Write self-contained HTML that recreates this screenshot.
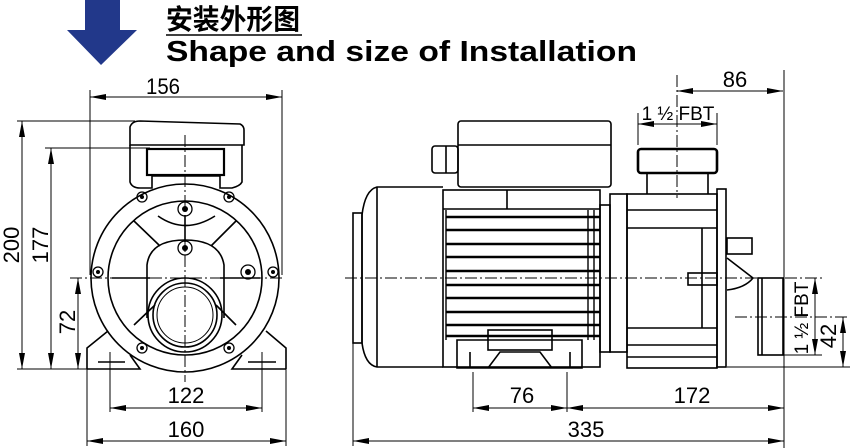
<!DOCTYPE html>
<html><head><meta charset="utf-8"><style>
html,body{margin:0;padding:0;background:#fff}
svg{display:block}
text{font-family:"Liberation Sans","Noto Sans CJK SC",sans-serif;fill:#000}
</style></head><body>
<svg width="850" height="448" viewBox="0 0 850 448" xmlns="http://www.w3.org/2000/svg">
<defs>
<marker id="a" viewBox="0 0 16 6" refX="16" refY="3" markerWidth="16" markerHeight="6" markerUnits="userSpaceOnUse" orient="auto-start-reverse"><path d="M0,0 L16,3 L0,6 Z" fill="#000"/></marker>
</defs>
<path d="M85,0 H120 V30 H137 L101,65 L67,30 H85 Z" fill="#22388a"/>
<text x="166" y="29" font-size="28" font-weight="bold" textLength="134" lengthAdjust="spacingAndGlyphs">安装外形图</text>
<line x1="166" y1="35" x2="302" y2="35" stroke="#000" stroke-width="1.5"/>
<text x="166" y="61" font-size="29" font-weight="bold" textLength="471" lengthAdjust="spacingAndGlyphs">Shape and size of Installation</text>

<g fill="none" stroke="#000" stroke-width="1">
<line x1="90" y1="90" x2="90" y2="275"/><line x1="282" y1="90" x2="282" y2="275"/>
<line x1="90" y1="97" x2="282" y2="97" marker-start="url(#a)" marker-end="url(#a)"/>
<line x1="17" y1="121" x2="135" y2="121"/><line x1="17" y1="369" x2="92" y2="369"/>
<line x1="45" y1="148" x2="150" y2="148"/>
<line x1="22" y1="121" x2="22" y2="369" marker-start="url(#a)" marker-end="url(#a)"/>
<line x1="51" y1="148" x2="51" y2="369" marker-start="url(#a)" marker-end="url(#a)"/>
<line x1="78" y1="278" x2="78" y2="369" marker-start="url(#a)" marker-end="url(#a)"/>
<line x1="70" y1="278" x2="282" y2="278" stroke-dasharray="12,3,2,3"/>
<line x1="185" y1="135" x2="185" y2="382" stroke-dasharray="12,3,2,3"/>
<line x1="110" y1="352" x2="110" y2="412"/><line x1="262" y1="352" x2="262" y2="412"/>
<line x1="110" y1="408" x2="262" y2="408" marker-start="url(#a)" marker-end="url(#a)"/>
<line x1="87" y1="360" x2="87" y2="446"/><line x1="286" y1="360" x2="286" y2="446"/>
<line x1="87" y1="441" x2="286" y2="441" marker-start="url(#a)" marker-end="url(#a)"/>
</g>
<g font-size="22">
<text x="163" y="94" text-anchor="middle" textLength="34" lengthAdjust="spacingAndGlyphs">156</text>
<text transform="translate(19,245) rotate(-90)" text-anchor="middle">200</text>
<text transform="translate(48,245) rotate(-90)" text-anchor="middle">177</text>
<text transform="translate(75,322) rotate(-90)" text-anchor="middle">72</text>
<text x="186" y="403" text-anchor="middle">122</text>
<text x="186" y="437" text-anchor="middle">160</text>
</g>

<g fill="none" stroke="#000" stroke-width="1.6">
<path d="M130,145 V127 Q132,121 140,121 L240,124 Q244,126 244,130 V145 Z"/>
<path d="M130,145 V182 Q132,188 140,188 L152,188 V176 H220 V188 L232,188 Q240,186 242,182 V145"/>
<rect x="147" y="149" width="77" height="26" stroke-width="2.2"/>
<circle cx="185" cy="278" r="94"/>
<circle cx="185" cy="278" r="77"/>
<path d="M112,278 H150 M220,278 H260"/>
<path d="M134,221 L160,246 M236,221 L211,246 M134,325 L155,305 M236,325 L216,305"/>
<path d="M147,318 V265 Q150,240 185,240 Q220,240 224,265 V318"/>
<path d="M158,216 Q185,235 215,216"/>
<path d="M185,215 V242"/>
<circle cx="185" cy="315" r="37"/><circle cx="185" cy="315" r="32"/><circle cx="185" cy="315" r="28" stroke-width="1"/>
<path d="M87,369 V348 L108,331 M87,369 H140 L130,355 M286,369 V348 L266,331 M286,369 H232 L242,355"/>
<path d="M98,362 H125 M248,362 H276"/>
</g>
<g fill="none" stroke="#000" stroke-width="1.3">
<circle cx="142" cy="197" r="5"/><circle cx="229" cy="197" r="5"/><circle cx="98" cy="272" r="5"/><circle cx="273" cy="272" r="5"/><circle cx="142" cy="348" r="5"/><circle cx="229" cy="348" r="5"/>
<circle cx="185" cy="209" r="7"/><circle cx="185" cy="248" r="7"/><circle cx="248" cy="272" r="7"/>
</g>
<g fill="#000"><circle cx="142" cy="197" r="2"/><circle cx="229" cy="197" r="2"/><circle cx="98" cy="272" r="2"/><circle cx="273" cy="272" r="2"/><circle cx="142" cy="348" r="2"/><circle cx="229" cy="348" r="2"/><circle cx="185" cy="209" r="3"/><circle cx="185" cy="248" r="3"/><circle cx="248" cy="272" r="3"/></g>

<g fill="none" stroke="#000" stroke-width="1.6">
<rect x="353" y="213" width="9" height="130"/>
<path d="M443,187 H377 Q365,190 362,215 V343 Q365,365 377,367 H443"/>
<line x1="377" y1="187" x2="377" y2="367"/>
<rect x="443" y="190" width="157" height="177"/>
<path d="M443,209 H600 M507,190 V209"/>
<rect x="458" y="121" width="153" height="66" rx="3"/>
<line x1="458" y1="145" x2="611" y2="145"/>
<rect x="432" y="146" width="26" height="27" rx="3"/>
<line x1="446" y1="146" x2="446" y2="173"/>
<path d="M457,340 H582 V368 H457 Z"/>
<rect x="488" y="330" width="64" height="20"/>
<path d="M488,368 L500,352 H540 L552,368"/>
<path d="M470,352 V368 M570,352 V368"/>
<rect x="600" y="205" width="10" height="147"/>
<rect x="610" y="194" width="17" height="158"/>
<rect x="627" y="194" width="90" height="174"/>
<path d="M627,210 H717 M627,228 H717 M627,328 H717 M627,345 H717 M627,357 H717 M702,228 V328"/>
<rect x="688" y="273" width="29" height="12"/>
<rect x="717" y="189" width="9" height="178"/>
<rect x="727" y="238" width="25" height="16"/>
<path d="M727,258 L753,278 Q745,288 727,290"/>
<rect x="758" y="278" width="25" height="77"/>
<line x1="762" y1="278" x2="762" y2="355"/>
<path d="M647,173 V194 M708,173 V194"/>
<rect x="638" y="149" width="79" height="24" rx="3" stroke-width="2.6"/>
</g>
<g stroke="#000" stroke-width="2.4">
<path d="M446,217 H600 M446,230 H600 M446,244 H600 M446,257 H600 M446,271 H600 M446,285 H600 M446,298 H600 M446,312 H600 M446,325 H600 M446,336 H600"/>
</g>
<g stroke="#000" stroke-width="1.4">
<path d="M446,210 V340 M588,210 V340 M594,210 V340"/>
</g>
<g fill="none" stroke="#000" stroke-width="1">
<line x1="345" y1="278" x2="822" y2="278" stroke-dasharray="12,3,2,3"/>
<line x1="677" y1="75" x2="677" y2="198" stroke-dasharray="12,3,2,3"/>
<line x1="735" y1="317" x2="850" y2="317" stroke-dasharray="12,3,2,3"/>
<line x1="677" y1="91" x2="783" y2="91" marker-start="url(#a)" marker-end="url(#a)"/>
<line x1="784" y1="70" x2="784" y2="448"/>
<line x1="638" y1="113" x2="638" y2="145"/><line x1="717" y1="113" x2="717" y2="145"/>
<line x1="638" y1="124" x2="717" y2="124" marker-start="url(#a)" marker-end="url(#a)"/>
<line x1="783" y1="355" x2="822" y2="355"/>
<line x1="727" y1="367" x2="850" y2="367"/>
<line x1="815" y1="278" x2="815" y2="355" marker-start="url(#a)" marker-end="url(#a)"/>
<line x1="843" y1="317" x2="843" y2="367" marker-start="url(#a)" marker-end="url(#a)"/>
<line x1="353" y1="343" x2="353" y2="446"/>
<line x1="473" y1="372" x2="473" y2="412"/><line x1="567" y1="372" x2="567" y2="412"/>
<line x1="473" y1="408" x2="567" y2="408" marker-start="url(#a)" marker-end="url(#a)"/>
<line x1="567" y1="408" x2="784" y2="408" marker-start="url(#a)" marker-end="url(#a)"/>
<line x1="353" y1="441" x2="784" y2="441" marker-start="url(#a)" marker-end="url(#a)"/>
</g>
<g font-size="22">
<text x="735" y="87" text-anchor="middle">86</text>
<text x="522" y="403" text-anchor="middle">76</text>
<text x="692" y="403" text-anchor="middle">172</text>
<text x="586" y="437" text-anchor="middle">335</text>
<text transform="translate(836,336) rotate(-90)" text-anchor="middle">42</text>
</g>
<text x="678" y="120" font-size="19" text-anchor="middle">1 ½ FBT</text>
<text transform="translate(808,318) rotate(-90)" font-size="19" text-anchor="middle">1 ½ FBT</text>
</svg>
</body></html>
